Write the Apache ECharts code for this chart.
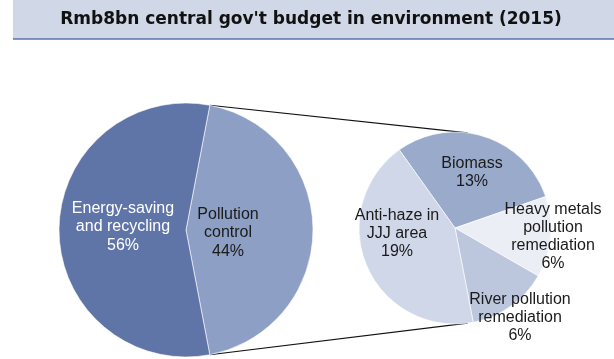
<!DOCTYPE html>
<html>
<head>
<meta charset="utf-8">
<script src="https://cdn.jsdelivr.net/npm/echarts@6/dist/echarts.min.js"></script>
<style>
  html, body { margin: 0; padding: 0; background: #ffffff; }
  #chart { width: 614px; height: 359px; }
</style>
</head>
<body>
<div id="chart"></div>
<script>
// Central government environment budget, 2015 (share of Rmb8bn)
const titleText = "Rmb8bn central gov't budget in environment (2015)";

// Main split
const mainNames = ['Pollution control', 'Energy-saving and recycling'];
const mainLabels = ['Pollution\ncontrol', 'Energy-saving\nand recycling'];
const mainValues = [44, 56];

// Breakdown of pollution control
const subNames = ['Biomass', 'Heavy metals pollution remediation', 'River pollution remediation', 'Anti-haze in JJJ area'];
const subLabels = ['Biomass', 'Heavy metals\npollution\nremediation', 'River pollution\nremediation', 'Anti-haze in\nJJJ area'];
const subValues = [13, 6, 6, 19];

const FONT = '"Liberation Sans", Arial, sans-serif';
const TITLE_FONT = '"DejaVu Sans", "Liberation Sans", sans-serif';

const mainColors = ['#8d9fc4', '#5f75a8'];
const mainTextColors = ['#1a1a1a', '#ffffff'];
const subColors = ['#9aaacb', '#eceef5', '#bcc6dd', '#d0d7e8'];

// Geometry of the two pies
const mainC = [186, 230], mainR = 127;
const subC = [455, 228], subR = 96;
const mainTotal = mainValues.reduce((a, b) => a + b, 0);
const pcSpan = mainValues[0] / mainTotal * 360;
const mainStart = pcSpan / 2;       // slice centred on 3 o'clock
const subStart = 125.5;

// Label anchor points (px) for each slice
const mainLabelPos = [[228, 233], [123, 227]];
const subLabelPos = [[472, 173], [553, 237], [520, 318], [397, 234]];

const chart = echarts.init(document.getElementById('chart'), null, { renderer: 'canvas' });

// Connector lines from the edges of the pollution-control slice to the breakdown pie
function connectors() {
  const deg = Math.PI / 180;
  const a1 = mainStart * deg, a2 = (mainStart - pcSpan) * deg;
  const p1 = [mainC[0] + mainR * Math.cos(a1), mainC[1] - mainR * Math.sin(a1)];
  const p2 = [mainC[0] + mainR * Math.cos(a2), mainC[1] - mainR * Math.sin(a2)];
  const b = 82.5 * deg;
  const q1 = [subC[0] + subR * Math.cos(b), subC[1] - subR * Math.sin(b)];
  const q2 = [subC[0] + subR * Math.cos(-b), subC[1] - subR * Math.sin(-b)];
  return [
    { type: 'line', z: 1, shape: { x1: p1[0], y1: p1[1], x2: q1[0], y2: q1[1] }, style: { stroke: '#111', lineWidth: 1.2 } },
    { type: 'line', z: 1, shape: { x1: p2[0], y1: p2[1], x2: q2[0], y2: q2[1] }, style: { stroke: '#111', lineWidth: 1.2 } }
  ];
}

chart.setOption({
  animation: false,
  backgroundColor: '#ffffff',
  graphic: [
    { type: 'rect', shape: { x: 13, y: 0, width: 601, height: 39 }, style: { fill: '#d0d7e6' }, z: 0 },
    { type: 'line', shape: { x1: 13, y1: 39, x2: 614, y2: 39 }, style: { stroke: '#5b73ab', lineWidth: 1.5 }, z: 0 },
    { type: 'text', x: 311, y: 20, z: 2,
      style: { text: titleText, font: 'bold 17px ' + TITLE_FONT, fill: '#111', align: 'center', verticalAlign: 'middle' } }
  ].concat(connectors()),
  series: [
    {
      type: 'pie',
      center: mainC,
      radius: mainR,
      startAngle: mainStart,
      clockwise: true,
      silent: true,
      itemStyle: { borderColor: '#ffffff', borderWidth: 0.6 },
      label: {
        show: true, position: 'inside', fontFamily: FONT, fontSize: 16, lineHeight: 18.5,
        formatter: p => mainLabels[p.dataIndex] + '\n' + p.value + '%'
      },
      labelLayout: p => ({ x: mainLabelPos[p.dataIndex][0], y: mainLabelPos[p.dataIndex][1], align: 'center', verticalAlign: 'middle' }),
      labelLine: { show: false },
      data: mainNames.map((n, i) => ({
        name: n, value: mainValues[i],
        itemStyle: { color: mainColors[i] },
        label: { color: mainTextColors[i] }
      }))
    },
    {
      type: 'pie',
      center: subC,
      radius: subR,
      startAngle: subStart,
      clockwise: true,
      silent: true,
      itemStyle: { borderColor: '#ffffff', borderWidth: 0.6 },
      label: {
        show: true, position: 'inside', fontFamily: FONT, fontSize: 16, lineHeight: 18, color: '#1a1a1a',
        formatter: p => subLabels[p.dataIndex] + '\n' + p.value + '%'
      },
      labelLayout: p => ({ x: subLabelPos[p.dataIndex][0], y: subLabelPos[p.dataIndex][1], align: 'center', verticalAlign: 'middle' }),
      labelLine: { show: false },
      data: subNames.map((n, i) => ({
        name: n, value: subValues[i],
        itemStyle: { color: subColors[i] }
      }))
    }
  ]
});
</script>
</body>
</html>
